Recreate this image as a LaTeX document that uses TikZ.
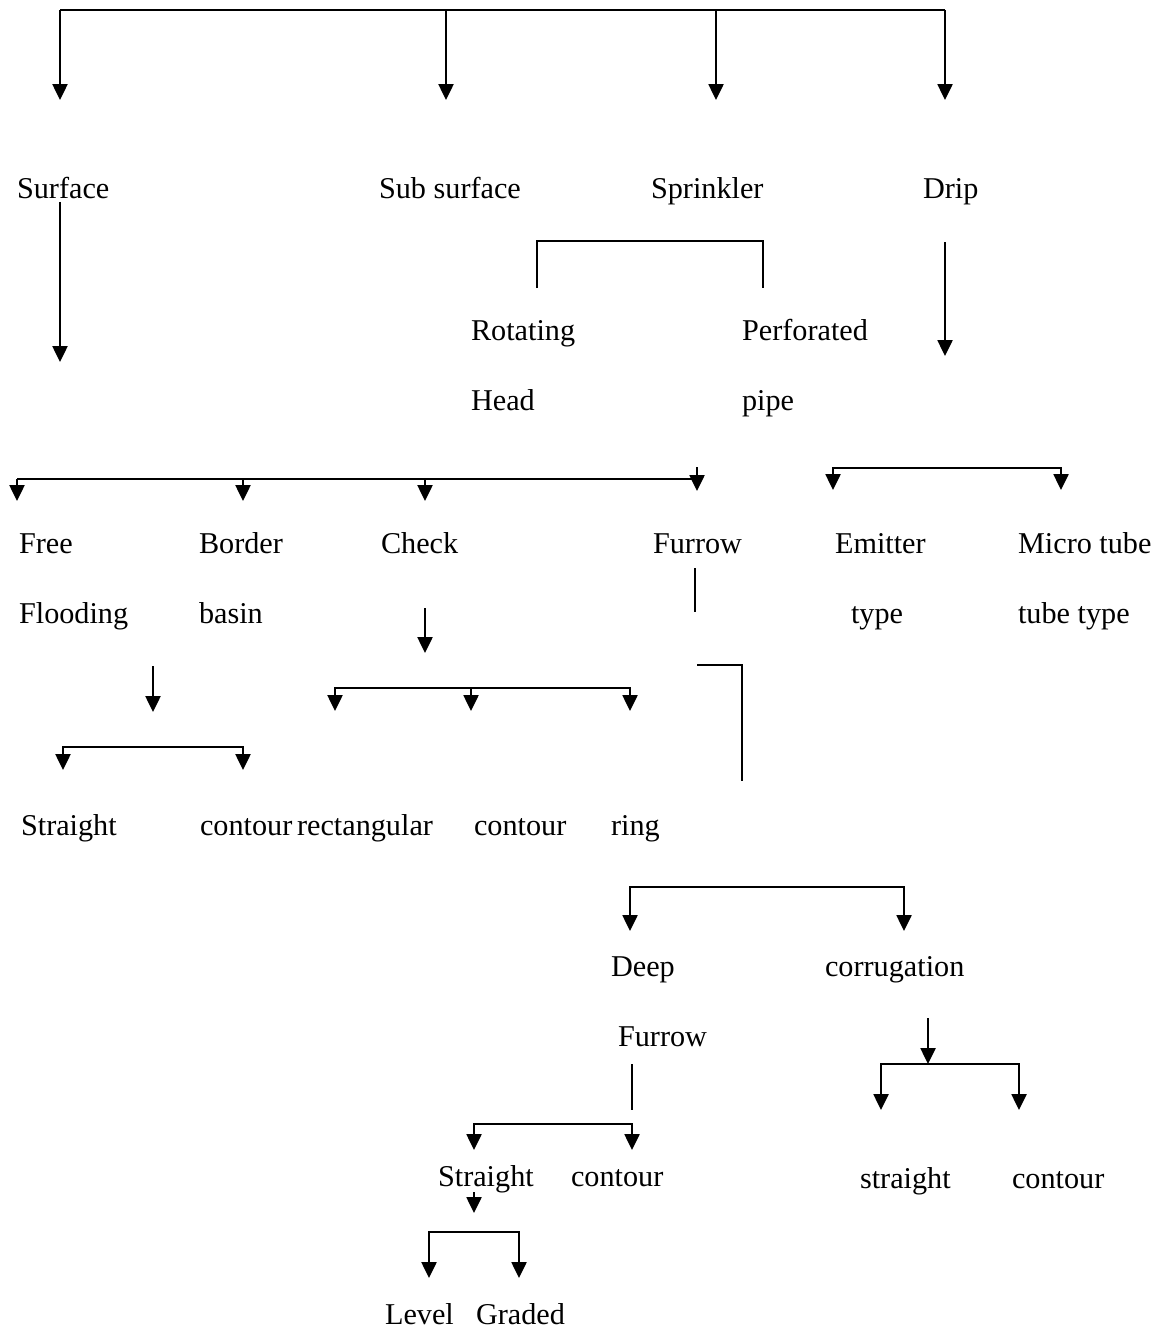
\documentclass[tikz,border=0pt]{standalone}
\usepackage{fontspec}
\setmainfont{Liberation Serif}
\usetikzlibrary{arrows.meta}

\begin{document}
\begin{tikzpicture}[x=0.02cm,y=-0.02cm,line width=1.2pt,
		arr/.style={-{Triangle[width=8.5pt,length=9pt]}},
		twoarr/.style={{Triangle[width=8.5pt,length=9pt]}-{Triangle[width=8.5pt,length=9pt]}},
		lbl/.style={anchor=base west,inner sep=0pt,font=\fontsize{17.2}{20}\selectfont}]
		\useasboundingbox (0,0) rectangle (1158,1331);
		
		% methods
		\node[lbl] (surf)    at (16,198)   {Surface};
		\node[lbl] (subsurf) at (378,198)  {Sub surface};
		\node[lbl] (sprink)  at (650,198)  {Sprinkler};
		\node[lbl] (drip)    at (922,198)  {Drip};
		
		% sprinkler and drip types
		\node[lbl] (rot)      at (470,340)  {Rotating};
		\node[lbl] (rothead)  at (470,410)  {Head};
		\node[lbl] (perf)     at (741,340)  {Perforated};
		\node[lbl] (perfpipe) at (741,410)  {pipe};
		\node[lbl] (emit)     at (834,553)  {Emitter};
		\node[lbl] (emittype) at (850,623)  {type};
		\node[lbl] (micro)    at (1017,553) {Micro tube};
		\node[lbl] (microtype) at (1017,623) {tube type};
		
		% surface types
		\node[lbl] (free)   at (18,553)  {Free};
		\node[lbl] (flood)  at (18,623)  {Flooding};
		\node[lbl] (border) at (198,553) {Border};
		\node[lbl] (basin)  at (198,623) {basin};
		\node[lbl] (check)  at (380,553) {Check};
		\node[lbl] (furrow) at (652,553) {Furrow};
		
		\node[lbl] (bstraight) at (20,835)  {Straight};
		\node[lbl] (bcontour)  at (199,835) {contour};
		\node[lbl] (crect)     at (296,835) {rectangular};
		\node[lbl] (ccontour)  at (473,835) {contour};
		\node[lbl] (cring)     at (610,835) {ring};
		
		% furrow types
		\node[lbl] (deep)     at (610,976)  {Deep};
		\node[lbl] (deepfur)  at (617,1046) {Furrow};
		\node[lbl] (corr)     at (824,976)  {corrugation};
		\node[lbl] (dstraight) at (437,1186) {Straight};
		\node[lbl] (dcontour)  at (570,1186) {contour};
		\node[lbl] (rstraight) at (859,1188) {straight};
		\node[lbl] (rcontour)  at (1011,1188) {contour};
		\node[lbl] (level)  at (384,1324) {Level};
		\node[lbl] (graded) at (475,1324) {Graded};
		
		% top bracket
		\draw (60,10) -- (945,10);
		\foreach \x in {60,446,716,945}
			\draw[arr] (\x,10) -- (\x,100);
		
		\draw[arr] (60,202) -- (60,362);
		\draw (537,288) |- (763,241) -- (763,288);
		\draw[arr] (945,242) -- (945,356);
		
		% second row
		\draw (17,479) -- (697,479);
		\foreach \x in {17,243,425}
			\draw[arr] (\x,479) -- (\x,501);
		\draw[arr] (697,467) -- (697,491);
		\draw[twoarr] (833,490) |- (1061,468) -- (1061,490);
		
		% free flooding and check
		\draw[arr] (153,666) -- (153,712);
		\draw[twoarr] (63,770) |- (243,747) -- (243,770);
		\draw[arr] (425,608) -- (425,653);
		\draw[twoarr] (335,711) |- (630,688) -- (630,711);
		\draw[arr] (471,688) -- (471,711);
		
		% furrow
		\draw (695,568) -- (695,612);
		\draw (697,665) -- (742,665) -- (742,781);
		\draw[twoarr] (630,931) |- (904,887) -- (904,931);
		
		\draw[arr] (928,1018) -- (928,1064);
		\draw[twoarr] (881,1110) |- (1019,1064) -- (1019,1110);
		
		\draw (632,1064) -- (632,1110);
		\draw[twoarr] (474,1150) |- (632,1124) -- (632,1150);
		\draw[arr] (474,1192) -- (474,1213);
		\draw[twoarr] (429,1278) |- (519,1232) -- (519,1278);
		
\end{tikzpicture}
\end{document}
